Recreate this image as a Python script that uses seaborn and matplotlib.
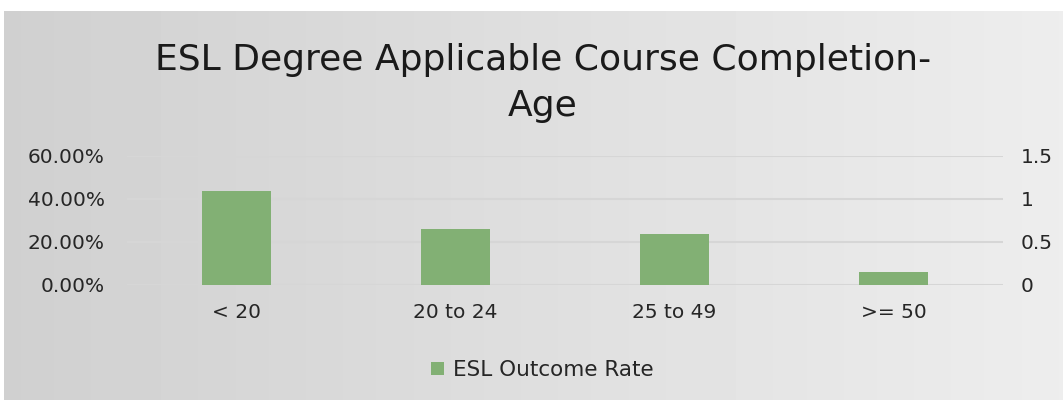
import numpy as np
import matplotlib
matplotlib.use("Agg")
import matplotlib.pyplot as plt
import seaborn as sns
import pandas as pd
from matplotlib.ticker import FuncFormatter

categories = ["< 20", "20 to 24", "25 to 49", ">= 50"]
outcome_rate = [0.436, 0.258, 0.235, 0.062]
series_name = "ESL Outcome Rate"
title_lines = ["ESL Degree Applicable Course Completion-", "Age"]
right_ticks = [0, 0.5, 1, 1.5]
right_labels = ["0", "0.5", "1", "1.5"]

sns.set_theme(style="white")
plt.rcParams['font.family'] = ['DejaVu Sans']

W, H = 1063, 400
fig = plt.figure(figsize=(W / 100, H / 100), dpi=100)
fig.patch.set_facecolor("white")

# gradient background of the chart area
bg = fig.add_axes([4 / W, 0, 1 - 4 / W, 1 - 11 / H], zorder=0)
grad = np.linspace(0.815, 0.93, 256)[None, :]
bg.imshow(grad, cmap="gray", vmin=0, vmax=1, aspect="auto", extent=[0, 1, 0, 1])
bg.set_axis_off()

ax = fig.add_axes([127 / W, 1 - 285 / H, 876 / W, (285 - 155.7) / H], zorder=1)
ax.patch.set_alpha(0)

df = pd.DataFrame({"cat": categories, "val": outcome_rate})
sns.barplot(data=df, x="cat", y="val", color="#82b074", saturation=1,
            width=0.315, ax=ax, label=series_name, zorder=3, linewidth=0)
ax.set_xlim(-0.5, 3.5)
ax.set_ylim(0, 0.6)
ax.set_yticks([0, 0.2, 0.4, 0.6])
ax.yaxis.set_major_formatter(FuncFormatter(lambda v, p: f"{v*100:.2f}%"))
ax.grid(axis="y", color="#d6d6d6", linewidth=1.5, zorder=0)
ax.set_axisbelow(True)
ax.set_xlabel("")
ax.set_ylabel("")
for s in ax.spines.values():
    s.set_visible(False)
ax.tick_params(axis="y", length=0, pad=16, labelsize=14.5, labelcolor="#262626")
ax.tick_params(axis="x", length=0, pad=13, labelsize=14.5, labelcolor="#262626")
if ax.get_legend():
    ax.get_legend().remove()

ax2 = ax.twinx()
ax2.set_ylim(0, 1.5)
ax2.set_yticks(right_ticks)
ax2.set_yticklabels(right_labels)
ax2.tick_params(axis="y", length=0, pad=13, labelsize=14.5, labelcolor="#262626")
for s in ax2.spines.values():
    s.set_visible(False)
ax2.grid(False)

for txt, base_y in zip(title_lines, [70, 116]):
    fig.text(543 / W, 1 - base_y / H, txt, ha="center", va="baseline", fontsize=26,
             color="#1a1a1a")

handles, labels = ax.get_legend_handles_labels()
fig.legend(handles[:1], labels[:1], loc="center", bbox_to_anchor=(0.51, 1 - 370 / H),
           frameon=False, fontsize=15.5, handlelength=0.6, handleheight=0.6,
           handletextpad=0.4, labelcolor="#262626")

fig.savefig("out.png", dpi=100)
